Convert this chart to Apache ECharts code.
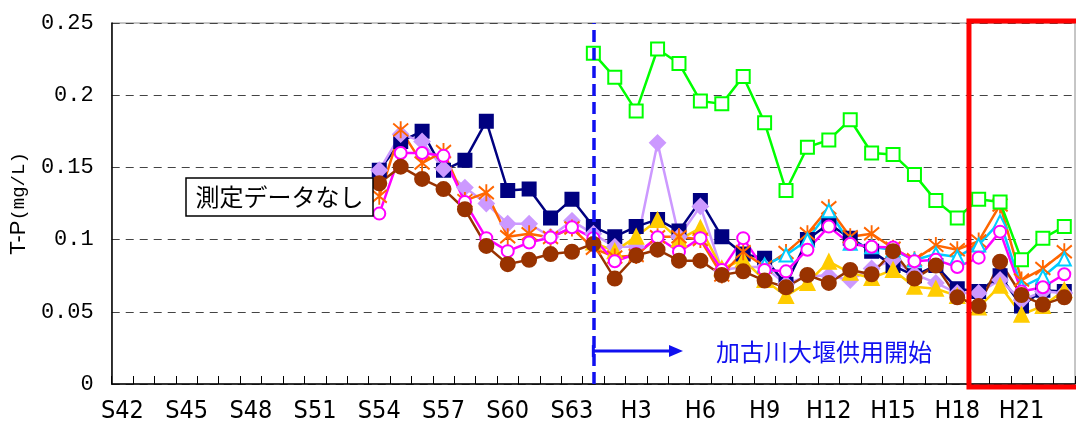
<!DOCTYPE html>
<html><head><meta charset="utf-8">
<script src="https://cdn.jsdelivr.net/npm/echarts@6/dist/echarts.min.js"></script>
<style>html,body{margin:0;padding:0;background:#fff}#c{width:1076px;height:429px}</style>
</head><body><div id="c"></div>
<script>
const pad = n => Array(n).fill(null);
const categories = ['S42','S43','S44','S45','S46','S47','S48','S49','S50','S51','S52','S53','S54','S55','S56','S57','S58','S59','S60','S61','S62','S63',
  'H1','H2','H3','H4','H5','H6','H7','H8','H9','H10','H11','H12','H13','H14','H15','H16','H17','H18','H19','H20','H21','H22','H23'];
const yTicks = [0, 0.05, 0.1, 0.15, 0.2, 0.25];

const navy = pad(12).concat([0.148,0.168,0.175,0.148,0.155,0.182,0.134,0.135,0.115,0.128,
  0.109,0.102,0.109,0.114,0.106,0.127,0.102,0.090,0.087,0.069,0.100,0.111,0.101,0.092,0.082,0.075,0.082,0.066,0.064,0.075,0.054,0.065,0.064]);
const lavender = pad(12).concat([0.148,0.173,0.168,0.149,0.136,0.125,0.111,0.111,0.102,0.113,
  0.104,0.095,0.095,0.167,0.102,0.123,0.079,0.081,0.081,0.069,0.075,0.075,0.072,0.080,0.086,0.076,0.070,0.063,0.063,0.072,0.058,0.064,0.063]);
const gold = pad(22).concat([0.098,0.092,0.102,0.1135,0.100,0.108,0.080,0.086,0.072,0.061,0.070,0.0847,0.077,0.0734,0.079,0.0674,0.066,0.061,0.053,0.068,0.048,0.054,0.065]);
const orange = pad(12).concat([0.130,0.176,0.153,0.161,0.127,0.1325,0.102,0.104,0.1015,0.108,
  0.094,0.088,0.089,0.102,0.102,0.100,0.0755,0.0916,0.081,0.091,0.104,0.122,0.102,0.104,0.094,0.086,0.096,0.093,0.099,0.124,0.072,0.080,0.0916]);
const cyan = pad(30).concat([0.0824,0.0893,0.0997,0.120,0.0974,0.095,0.0928,0.0859,0.090,0.088,0.0963,0.1124,0.067,0.0743,0.0866]);
const magenta = pad(12).concat([0.118,0.160,0.160,0.158,0.126,0.101,0.092,0.098,0.1015,0.1085,
  0.101,0.085,0.090,0.1016,0.0916,0.101,0.079,0.101,0.079,0.078,0.093,0.109,0.097,0.095,0.0945,0.085,0.086,0.081,0.0875,0.1055,0.064,0.067,0.076]);
const brown = pad(12).concat([0.139,0.1505,0.142,0.135,0.121,0.0956,0.083,0.086,0.090,0.0916,
  0.097,0.073,0.089,0.093,0.0854,0.0854,0.0755,0.078,0.0716,0.067,0.0755,0.070,0.079,0.076,0.092,0.073,0.082,0.060,0.054,0.0847,0.0616,0.055,0.060]);
const green = pad(22).concat([0.229,0.2124,0.189,0.232,0.222,0.196,0.194,0.213,0.181,0.134,0.164,0.169,0.183,0.160,0.159,0.145,0.127,0.115,0.128,0.126,0.086,0.101,0.109]);

const damStart = 'H1';
const damLabel = '加古川大堰供用開始';
const noDataLabel = '測定データなし';
const highlightFrom = 'H19';

const asterisk = 'path://M0,-10L0,10M-7.5,-7.5L7.5,7.5M7.5,-7.5L-7.5,7.5';

function mk(name, data, color, symbol, size, extra) {
  return Object.assign({
    name, type: 'line', data, symbol, symbolSize: size, connectNulls: false, showAllSymbol: true,
    lineStyle: { color, width: 2.5 },
    itemStyle: { color, borderColor: color, borderWidth: 2 },
    emphasis: { disabled: true }, animation: false
  }, extra || {});
}

const chart = echarts.init(document.getElementById('c'), null, { renderer: 'canvas' });
chart.setOption({
  animation: false,
  grid: { left: 108, right: 1, top: 23, bottom: 45, show: true, borderColor: '#8c8c8c', borderWidth: 1 },
  xAxis: {
    type: 'category', data: categories, boundaryGap: true,
    axisLine: { lineStyle: { color: '#000', width: 1.5 } },
    axisTick: { show: true, inside: true, length: 8, interval: 0, lineStyle: { color: '#000' } },
    axisLabel: { interval: 2, margin: 15, fontSize: 25, color: '#000',
      fontFamily: "'Liberation Sans Narrow','DejaVu Sans Condensed','Liberation Sans',sans-serif" },
    splitLine: { show: false }
  },
  yAxis: {
    type: 'value', min: 0, max: 0.25, interval: 0.05,
    name: '{a|T-P}{b|(mg/L)}', nameLocation: 'middle', nameRotate: 90, nameGap: 72,
    nameTextStyle: { rich: {
      a: { fontSize: 22, fontFamily: "'Liberation Sans',sans-serif", color: '#000' },
      b: { fontSize: 19, fontFamily: "'Liberation Mono',monospace", color: '#000' } } },
    axisLine: { show: true, lineStyle: { color: '#000', width: 1.5 } },
    axisTick: { show: false },
    axisLabel: { margin: 18, fontSize: 22, color: '#000', fontFamily: "'Liberation Mono',monospace",
      formatter: v => String(+v.toFixed(2)) },
    splitLine: { show: true, lineStyle: { color: '#444', type: [8, 6], width: 1 } }
  },
  series: [
    mk('navy', navy, '#000080', 'rect', 13, {
      markLine: { silent: true, symbol: 'none', label: { show: false }, animation: false,
        lineStyle: { color: '#1010F0', type: [12, 6], width: 3.5 },
        data: [{ xAxis: damStart }] }
    }),
    mk('lavender', lavender, '#CC99FF', 'diamond', 15),
    mk('gold', gold, '#FFCC00', 'triangle', 14),
    mk('orange', orange, '#FF6600', asterisk, [15, 17]),
    mk('cyan', cyan, '#00CCFF', 'emptyTriangle', 13),
    mk('magenta', magenta, '#FF00FF', 'emptyCircle', 12),
    mk('brown', brown, '#993300', 'circle', 14),
    mk('green', green, '#00FF00', 'emptyRect', 13)
  ]
});

// annotations placed via axis scales
const px = (c, v) => chart.convertToPixel({ xAxisIndex: 0, yAxisIndex: 0 }, [c, v]);
const bandW = px('H2', 0)[0] - px('H1', 0)[0];
const plotTop = px('H1', 0.25)[1], plotBottom = px('H1', 0)[1];
const arrowY = px('H1', 0.0228)[1];
const ax0 = px(damStart, 0)[0];
const ax1 = px('H5', 0)[0] + 4;
const rx = px(highlightFrom, 0)[0] - bandW / 2 + 1;

chart.setOption({
  graphic: [
    { type: 'rect', shape: { x: 186, y: 178, width: 187, height: 38 },
      style: { fill: '#fff', stroke: '#000', lineWidth: 1.5 }, z: 10 },
    { type: 'text', x: 279.5, y: 197, z: 11,
      style: { text: noDataLabel, fill: '#000', font: "24px 'Noto Sans CJK JP'", align: 'center', verticalAlign: 'middle' } },
    { type: 'line', shape: { x1: ax0, y1: arrowY, x2: ax1 - 12, y2: arrowY }, style: { stroke: '#1010F0', lineWidth: 3 }, z: 10 },
    { type: 'line', shape: { x1: ax0, y1: arrowY - 6, x2: ax0, y2: arrowY + 6 }, style: { stroke: '#1010F0', lineWidth: 3 }, z: 10 },
    { type: 'polygon', shape: { points: [[ax1 - 14, arrowY - 6], [ax1, arrowY], [ax1 - 14, arrowY + 6]] }, style: { fill: '#1010F0' }, z: 10 },
    { type: 'text', x: 716, y: arrowY + 1, z: 10,
      style: { text: damLabel, fill: '#1010F0', font: "24px 'Noto Sans CJK JP'", align: 'left', verticalAlign: 'middle' } },
    { type: 'rect', shape: { x: rx, y: plotTop - 2, width: 1090 - rx, height: plotBottom - plotTop + 5 },
      style: { fill: 'none', stroke: '#FF0000', lineWidth: 5 }, z: 20 }
  ]
});
</script></body></html>
